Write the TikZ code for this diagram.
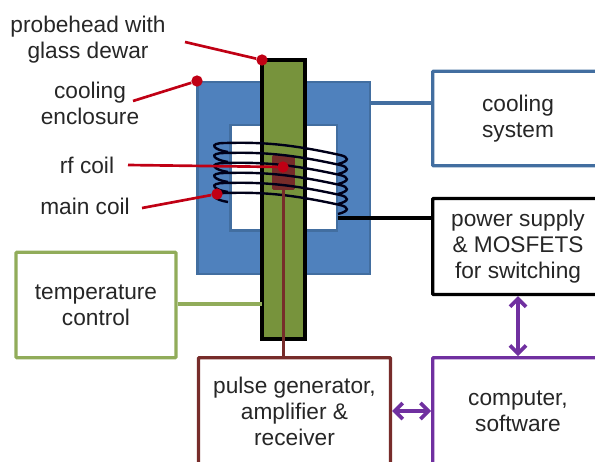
\documentclass[tikz,border=0pt]{standalone}
\usepackage{fontspec}
\setmainfont{Liberation Sans}
\usetikzlibrary{calc,positioning,arrows.meta}
\definecolor{myblue}{RGB}{79,129,189}
\definecolor{myblueline}{RGB}{66,110,160}
\definecolor{mygreen}{RGB}{119,147,60}
\definecolor{mygreenline}{RGB}{145,172,90}
\definecolor{mydarkred}{RGB}{119,44,42}
\definecolor{myred}{RGB}{192,0,20}
\definecolor{mypurple}{RGB}{112,48,160}
\definecolor{mytext}{RGB}{38,38,38}
\begin{document}
\begin{tikzpicture}[x=0.75pt, y=-0.75pt, >={Straight Barb[length=6pt,width=12pt]},
    unitbox/.style={draw, line width=2.4pt, fill=white, rounded corners=0.6pt, inner sep=0pt, align=center,
      text=mytext, font=\fontsize{17}{19.5}\selectfont, minimum width=#1},
    tag/.style={inner sep=0pt, align=center, text=mytext, font=\fontsize{17}{19.5}\selectfont},
    dot/.style={circle, fill=myred, minimum size=8.5pt, inner sep=0pt},
    leader/.style={myred, line width=2pt},
    link/.style={<->, mypurple, line width=2.8pt}]
  \clip[use as bounding box] (0,0) rectangle (595,461);
  % Cryostat parts
  \node[draw=myblueline, line width=2pt, fill=myblue, minimum width=129.5pt, minimum height=144pt, inner sep=0pt] (enclosure) at (283.5,178) {};
  \node[draw=myblueline, line width=2pt, fill=white, minimum width=80pt, minimum height=79pt, inner sep=0pt] (bore) at (283.5,177.5) {};
  \node[draw, line width=2.6pt, fill=mygreen, minimum width=32pt, minimum height=209pt, inner sep=0pt] (probe) at (283.5,199.5) {};
  \node[fill=mydarkred, rounded corners=1pt, minimum width=17pt, minimum height=26pt, inner sep=0pt] (rfcoil) at (283.5,172.5) {};
  % Main coil
  \foreach \i [evaluate=\i as \y using 143+10*\i] in {0,...,5}{
    \draw[line width=1.8pt, black!90!blue] (228,\y+9) .. controls (214,\y+7) and (207,\y) .. (225,\y)
      .. controls (262,\y-1) and (290,\y+1) .. (340,\y+12)
      .. controls (349,\y+14) and (350,\y+18) .. (338,\y+21);
  }
  % Boxes
  \node[unitbox=128pt, draw=myblueline, minimum height=71pt] (cooling) at (518,118.5) {cooling\\system};
  \node[unitbox=128pt, draw=black, minimum height=72pt] (power) at (518,246.5) {power supply\\\&~MOSFETS\\for switching};
  \node[unitbox=120pt, draw=mygreenline, minimum height=79pt] (temperature) at (96,305) {temperature\\control};
  \node[unitbox=144pt, draw=mydarkred, minimum height=80pt] (pulse) at (294.5,411) {pulse generator,\\amplifier \&\\receiver};
  \node[unitbox=128pt, draw=mypurple, minimum height=80pt] (computer) at (518,411) {computer,\\software};
  % Connections
  \coordinate (blueport) at (370,103);
  \coordinate (coilend) at (338,218);
  \coordinate (greenport) at (262,304);
  \draw[myblueline, line width=2.6pt] (blueport) -- (cooling.west |- blueport);
  \draw[black, line width=2.8pt] (coilend) -- (power.west |- coilend);
  \draw[mygreenline, line width=2.6pt] (temperature.east |- greenport) -- (greenport);
  \draw[mydarkred, line width=2.6pt] (rfcoil.south) -- (rfcoil.south |- pulse.north);
  \draw[link] (power.south) -- (computer.north);
  \draw[link] (pulse.east) -- (computer.west);
  % Labels and leaders
  \node[tag] (probelabel) at (88,39.5) {probehead with\\glass dewar};
  \node[tag] (enclosurelabel) at (90,103) {cooling\\enclosure};
  \node[tag] (rflabel) at (87,165) {rf coil};
  \node[tag] (mainlabel) at (85,206) {main coil};
  \node[dot] (probedot) at (262,60) {};
  \node[dot] (enclosuredot) at (197,81) {};
  \node[dot] (rfdot) at (283,167) {};
  \node[dot] (maindot) at (217,194) {};
  \coordinate (probeend) at (185,42);
  \coordinate (enclosureend) at (133,101);
  \coordinate (rfend) at (128,165);
  \coordinate (mainend) at (142,208);
  \draw[leader] (probeend) -- (probedot);
  \draw[leader] (enclosureend) -- (enclosuredot);
  \draw[leader] (rfend) -- (rfdot);
  \draw[leader] (mainend) -- (maindot);
\end{tikzpicture}
\end{document}
